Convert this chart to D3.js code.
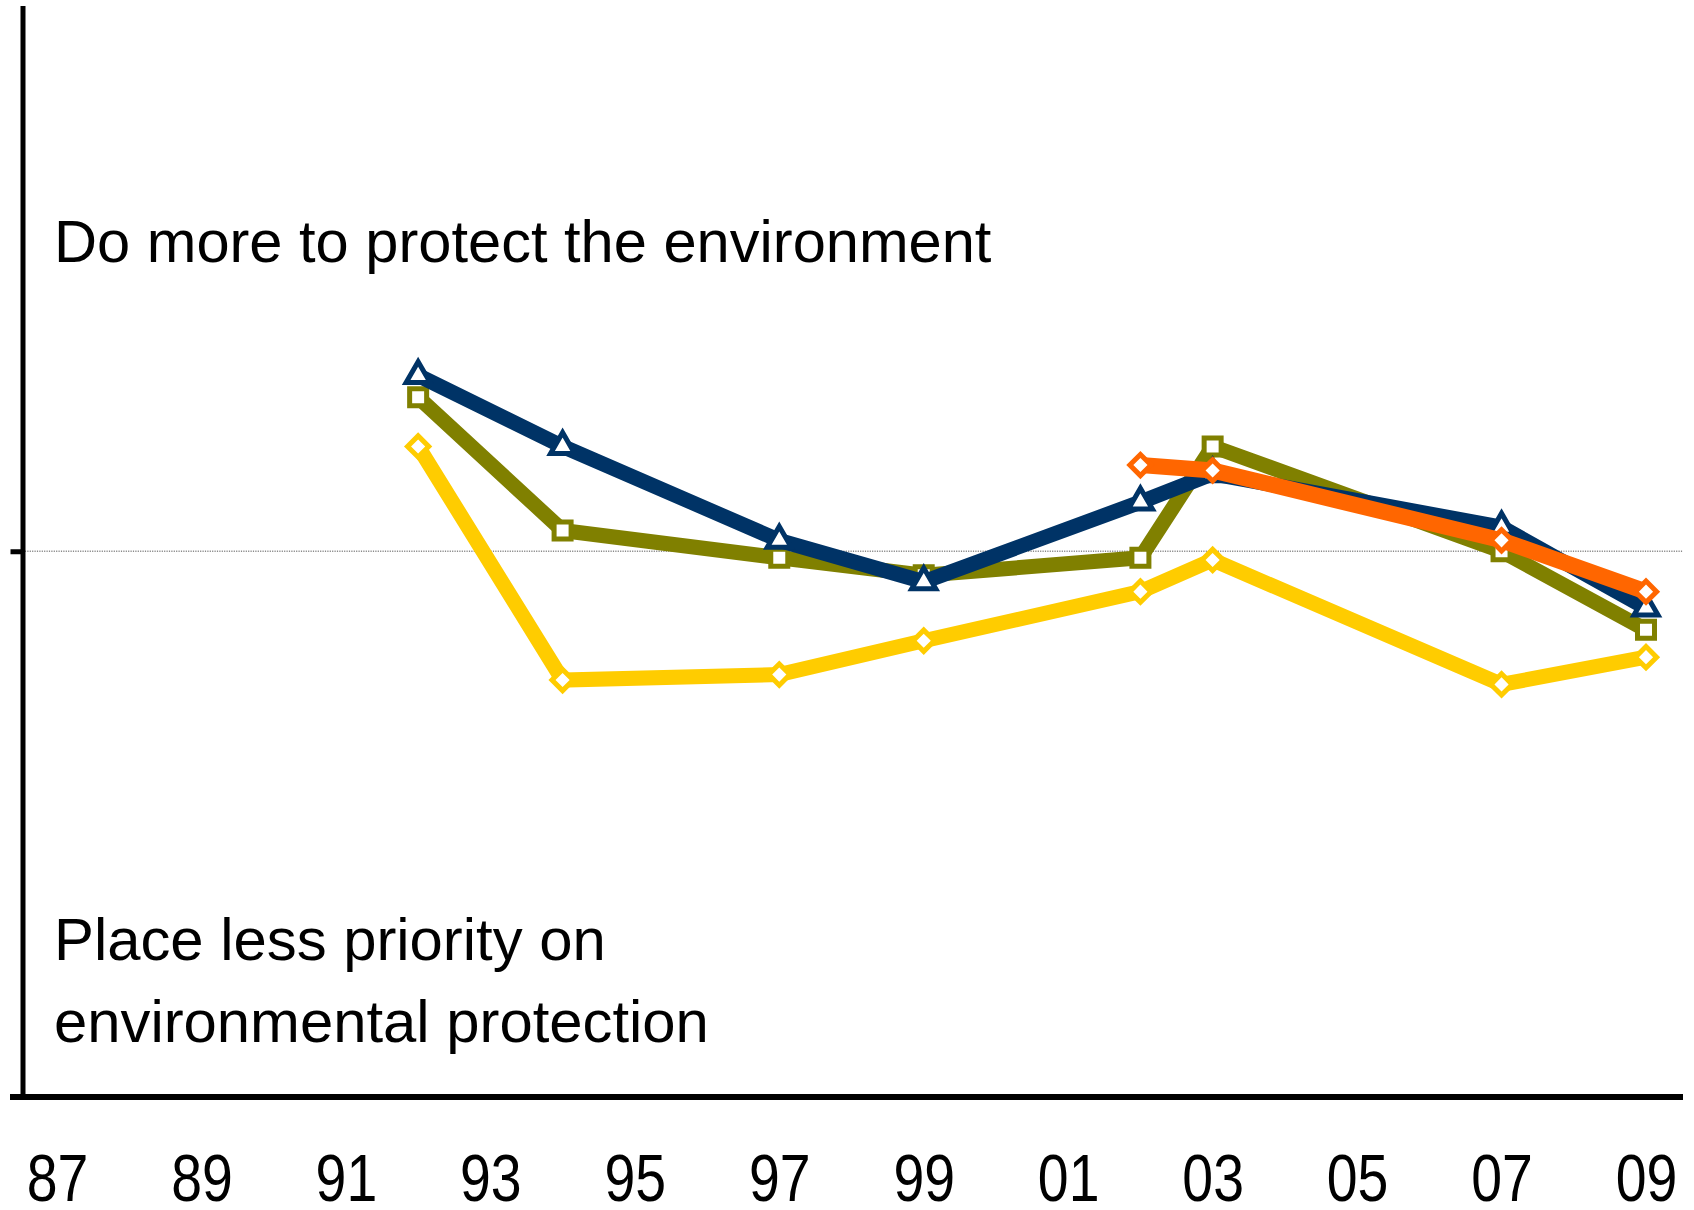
<!DOCTYPE html>
<html>
<head>
<meta charset="utf-8">
<script src="https://cdn.jsdelivr.net/npm/d3@7"></script>
<style>
  html, body { margin: 0; padding: 0; background: #ffffff; }
  svg { display: block; }
  text { font-family: "Liberation Sans", Arial, Helvetica, sans-serif; fill: #000; }
</style>
</head>
<body>
<svg id="chart" width="1694" height="1210"></svg>
<script>
// ---- data ----
const years = [1992, 1994, 1997, 1999, 2002, 2003, 2007, 2009];
const seriesNavy   = [66.1, 59.6, 51.0, 47.2, 54.5, 57.1, 52.2, 44.8];
const seriesOlive  = [64.1, 51.9, 49.4, 47.8, 49.4, 59.6, 50.0, 42.8];
const seriesYellow = [59.6, 38.2, 38.7, 41.8, 46.3, 49.2, 37.8, 40.3];
const yearsOrange  = [2002, 2003, 2007, 2009];
const seriesOrange = [57.9, 57.4, 51.0, 46.3];
const tickYears = [1987, 1989, 1991, 1993, 1995, 1997, 1999, 2001, 2003, 2005, 2007, 2009];
const tickLabels = ["87", "89", "91", "93", "95", "97", "99", "01", "03", "05", "07", "09"];
const labelTop = "Do more to protect the environment";
const labelBottom = ["Place less priority on", "environmental protection"];

// ---- layout ----
const svg = d3.select("#chart");
const x = d3.scaleLinear().domain([1987, 2009]).range([57, 1646]);
const y = d3.scaleLinear().domain([0, 100]).range([1097, 5.5]);
const axisX0 = 22.5;

// midline dotted
svg.append("line")
  .attr("x1", axisX0).attr("x2", 1683)
  .attr("y1", y(50)).attr("y2", y(50))
  .attr("stroke", "#8a8a8a").attr("stroke-width", 1.4)
  .attr("stroke-dasharray", "1.2,1.2");

// y axis
const yAxis = d3.axisLeft(y).tickValues([50]).tickSize(12).tickFormat("").tickSizeOuter(0);
const gy = svg.append("g").attr("transform", `translate(${axisX0},0)`).call(yAxis);
gy.select(".domain").attr("stroke", "#000").attr("stroke-width", 5);
gy.selectAll(".tick line").attr("stroke", "#000").attr("stroke-width", 5);

// x axis line
svg.append("line")
  .attr("x1", 10).attr("x2", 1683)
  .attr("y1", y(0)).attr("y2", y(0))
  .attr("stroke", "#000").attr("stroke-width", 6);

// x tick labels
const xAxis = d3.axisBottom(x).tickValues(tickYears).tickSize(0)
  .tickFormat((d, i) => tickLabels[i]);
const gx = svg.append("g").attr("transform", `translate(0,${y(0)})`).call(xAxis);
gx.select(".domain").remove();
gx.selectAll(".tick text")
  .attr("y", 104).attr("dy", 0)
  .attr("font-size", 66)
  .attr("transform", "scale(0.84,1)")
  .style("font-family", "'Liberation Sans', Arial, sans-serif")
  .attr("fill", "#000");

// annotation text
svg.append("text").attr("x", 54).attr("y", 262).attr("font-size", 59.6).text(labelTop);
labelBottom.forEach((t, i) => {
  svg.append("text").attr("x", 54).attr("y", 960 + i * 82).attr("font-size", 59.8).text(t);
});

// series
const line = d3.line().x(d => x(d[0])).y(d => y(d[1])).curve(d3.curveLinear);
function drawSeries(yrs, vals, color, width, symType, symSize, rot) {
  const pts = yrs.map((yr, i) => [yr, vals[i]]);
  const g = svg.append("g");
  g.append("path").datum(pts).attr("d", line)
    .attr("fill", "none").attr("stroke", color)
    .attr("stroke-width", width).attr("stroke-linejoin", "miter");
  const sym = d3.symbol().type(symType).size(symSize);
  g.selectAll("path.mk").data(pts).enter().append("path")
    .attr("class", "mk")
    .attr("d", sym)
    .attr("transform", d => `translate(${x(d[0])},${y(d[1])}) rotate(${rot})`)
    .attr("fill", "#fff").attr("stroke", color).attr("stroke-width", 5)
    .attr("stroke-linejoin", "miter");
}
drawSeries(years, seriesYellow, "#FFCC00", 15, d3.symbolSquare, 225, 45);
drawSeries(years, seriesOlive, "#808000", 15, d3.symbolSquare, 289, 0);
drawSeries(years, seriesNavy, "#003366", 15, d3.symbolTriangle, 250, 0);
drawSeries(yearsOrange, seriesOrange, "#FF6600", 16, d3.symbolSquare, 225, 45);
</script>
</body>
</html>
